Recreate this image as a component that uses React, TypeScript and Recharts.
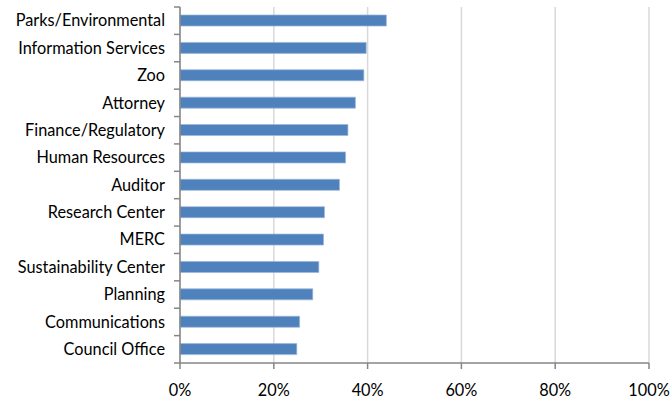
import React from "react";
import { BarChart, Bar, XAxis, YAxis, CartesianGrid } from "recharts";

const departments = [
  "Parks/Environmental",
  "Information Services",
  "Zoo",
  "Attorney",
  "Finance/Regulatory",
  "Human Resources",
  "Auditor",
  "Research Center",
  "MERC",
  "Sustainability Center",
  "Planning",
  "Communications",
  "Council Office",
];
const shares = [44.0, 39.7, 39.2, 37.4, 35.8, 35.3, 34.0, 30.8, 30.6, 29.6, 28.3, 25.5, 24.9];
const xTicks = [0, 20, 40, 60, 80, 100];

const data = departments.map((name, i) => ({ name, value: shares[i] }));

const W = 672;
const H = 399;
const X_AXIS_H = 36;
const M = { top: 7, right: 23, bottom: 0, left: 0 };
const BAND = (H - M.top - X_AXIS_H) / departments.length;
const FONT = "Lato, 'Open Sans', sans-serif";
const FS = 16.3;
const AXIS = "#868686";

const YTick = (props: any) => {
  const { x, y, payload, index } = props;
  const last = index === departments.length - 1;
  return (
    <g>
      <text x={x - 15} y={y} dy="0.35em" textAnchor="end" fontSize={FS} fontFamily={FONT} fill="#000">
        {payload.value}
      </text>
      <line x1={x - 6} x2={x} y1={y - BAND / 2} y2={y - BAND / 2} stroke={AXIS} strokeWidth={1.5} />
      {last && (
        <line x1={x - 6} x2={x} y1={y + BAND / 2} y2={y + BAND / 2} stroke={AXIS} strokeWidth={1.5} />
      )}
    </g>
  );
};

export default function App() {
  return (
    <div style={{ position: "absolute", left: 0, top: 0, width: W, height: H, background: "#fff" }}>
      <BarChart width={W} height={H} data={data} layout="vertical" margin={M} barSize={11}>
        <CartesianGrid horizontal={false} stroke="#d9d9d9" strokeWidth={1.5} />
        <XAxis
          type="number"
          domain={[0, 100]}
          ticks={xTicks}
          tickFormatter={(v: number) => `${v}%`}
          axisLine={{ stroke: AXIS, strokeWidth: 1.5 }}
          tickLine={{ stroke: AXIS, strokeWidth: 1.5 }}
          tickSize={6}
          tickMargin={15}
          height={X_AXIS_H}
          tick={{ fontSize: FS, fontFamily: FONT, fill: "#000" }}
          interval={0}
        />
        <YAxis
          type="category"
          dataKey="name"
          width={180}
          axisLine={{ stroke: AXIS, strokeWidth: 1.5 }}
          tickLine={false}
          tickSize={0}
          tickMargin={0}
          tick={<YTick />}
          interval={0}
        />
        <Bar dataKey="value" fill="#4F81BD" stroke="#9AB6DA" strokeWidth={0.7} isAnimationActive={false} />
      </BarChart>
    </div>
  );
}
